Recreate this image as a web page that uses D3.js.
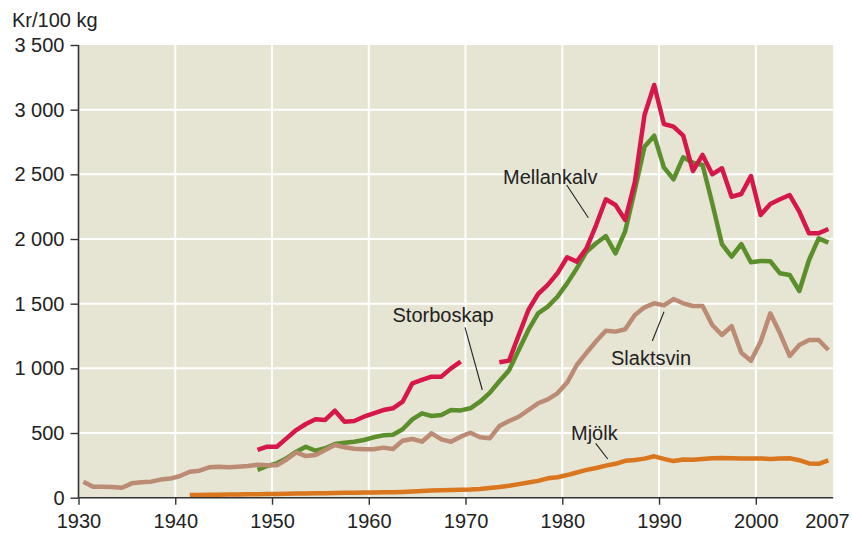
<!DOCTYPE html>
<html><head><meta charset="utf-8">
<script src="https://cdn.jsdelivr.net/npm/d3@7"></script>
<style>body{margin:0;background:#fff;}svg{display:block;font-family:"Liberation Sans",Arial,sans-serif;}</style>
</head><body><svg id="c" width="853" height="533"></svg>
<script>
const years = d3.range(1930, 2008);
// Values per year 1930..2007 (null = no data)
const slaktsvin = [124,85,85,82,77,111,120,124,140,148,168,201,209,235,240,235,240,245,255,250,
 250,295,350,322,330,369,407,390,379,374,374,387,377,441,454,433,498,451,433,472,
 502,467,459,554,593,626,678,730,760,807,890,1026,1120,1210,1291,1284,1302,1413,1472,1503,
 1487,1536,1503,1482,1482,1335,1258,1327,1121,1059,1206,1426,1271,1096,1181,1219,1219,1142];
const storboskap = [null,null,null,null,null,null,null,null,null,null,null,null,null,null,null,null,null,null,215,245,
 266,304,356,394,363,382,415,425,433,446,467,482,487,529,606,652,632,640,678,675,
 691,742,810,900,985,1142,1297,1425,1477,1554,1657,1773,1902,1967,2023,1889,2060,2380,2714,2799,
 2554,2462,2632,2590,2572,2276,1961,1863,1961,1820,1830,1828,1735,1722,1598,1838,2005,1972];
const mellankalv = [null,null,null,null,null,null,null,null,null,null,null,null,null,null,null,null,null,null,369,394,
 394,459,523,570,606,601,673,588,593,626,652,678,691,742,884,910,936,936,1000,1052,
 null,null,null,1047,1060,1258,1451,1575,1645,1735,1859,1825,1928,2108,2307,2263,2147,2440,2959,3191,
 2889,2869,2799,2526,2650,2500,2547,2327,2348,2487,2186,2271,2307,2340,2211,2044,2044,2078];
const mjolk = [null,null,null,null,null,null,null,null,null,null,null,20,21,22,23,24,25,26,27,28,
 29,31,32,33,34,35,37,38,38,40,41,42,43,45,48,52,55,57,59,61,
 63,68,75,82,92,105,118,130,150,158,175,195,215,230,248,262,285,292,302,320,
 300,283,295,293,300,305,306,305,304,304,304,300,303,305,290,265,262,288];
const seriesNames = ["Storboskap","Slaktsvin","Mellankalv","Mjölk"];
const seriesColors = ["#5b8f2b","#bb8b74","#d6174c","#d9761e"];
const yTicks = [0,500,1000,1500,2000,2500,3000,3500];
const yTickLabels = ["0","500","1 000","1 500","2 000","2 500","3 000","3 500"];
const xTicks = [1930,1940,1950,1960,1970,1980,1990,2000];
const xEndLabel = "2007";
const unitLabel = "Kr/100 kg";

const svg = d3.select("#c");
const x = d3.scaleLinear().domain([1930, 2008]).range([78.5, 833.2]);
const y = d3.scaleLinear().domain([0, 3500]).range([497.7, 45]);
const FS = "20px";

svg.append("rect").attr("x", x(1930)).attr("y", y(3500))
  .attr("width", x(2008) - x(1930)).attr("height", y(0) - y(3500)).attr("fill", "#e6e4d3");

// grid
svg.append("g").selectAll("line").data(xTicks.filter(d => d > 1930)).join("line")
  .attr("x1", d => x(d)).attr("x2", d => x(d)).attr("y1", y(3500)).attr("y2", y(0))
  .attr("stroke", "#fff").attr("stroke-width", 2);
svg.append("g").selectAll("line").data(yTicks.filter(d => d > 0 && d < 3500)).join("line")
  .attr("x1", x(1930)).attr("x2", x(2008)).attr("y1", d => y(d)).attr("y2", d => y(d))
  .attr("stroke", "#fff").attr("stroke-width", 2);

// lines
const allSeries = [storboskap, slaktsvin, mellankalv, mjolk];
const line = d3.line().defined(d => d[1] != null).x(d => x(d[0] + 0.5)).y(d => y(d[1]));
allSeries.forEach((s, i) => {
  svg.append("path").datum(years.map((yr, j) => [yr, s[j]]))
    .attr("d", line).attr("fill", "none").attr("stroke", seriesColors[i])
    .attr("stroke-width", 4.5).attr("stroke-linejoin", "round");
});

// axes
const yAxis = svg.append("g").attr("transform", `translate(${x(1930)},0)`)
  .call(d3.axisLeft(y).tickValues(yTicks).tickFormat((d, i) => yTickLabels[i]).tickSize(8).tickPadding(6));
const xAxis = svg.append("g").attr("transform", `translate(0,${y(0)})`)
  .call(d3.axisBottom(x).tickValues(xTicks).tickFormat(d3.format("d")).tickSize(7).tickPadding(9.5));
[yAxis, xAxis].forEach(a => {
  a.select(".domain").attr("stroke", "#333").attr("stroke-width", 1.6);
  a.selectAll(".tick line").attr("stroke", "#333").attr("stroke-width", 1.4);
  a.selectAll("text").attr("font-size", FS).attr("fill", "#222").attr("font-family", "Liberation Sans, Arial, sans-serif");
});
yAxis.select(".domain").attr("d", `M0,${y(0)}V${y(3500)}`);
xAxis.select(".domain").attr("d", `M${x(1930)},0H${x(2008)}`);
xAxis.append("text").attr("x", x(2007.4)).attr("y", 16.5).attr("dy", "0.71em").attr("text-anchor", "middle")
  .attr("font-size", FS).attr("fill", "#222").text(xEndLabel);

svg.append("text").attr("x", 12).attr("y", 27).attr("font-size", FS).attr("fill", "#222").text(unitLabel);

// annotations
const ann = [
  {t: "Mellankalv", tx: 503, ty: 184, l: [566.7, 185, 588.3, 217.7]},
  {t: "Storboskap", tx: 392.5, ty: 321.7, l: [465, 327.3, 482.3, 390]},
  {t: "Slaktsvin", tx: 611, ty: 365, l: [652.3, 341, 664, 311.7]},
  {t: "Mjölk", tx: 571, ty: 440, l: [595.7, 443.3, 607.7, 459]}
];
ann.forEach(a => {
  svg.append("text").attr("x", a.tx).attr("y", a.ty).attr("font-size", FS).attr("fill", "#222").text(a.t);
  svg.append("line").attr("x1", a.l[0]).attr("y1", a.l[1]).attr("x2", a.l[2]).attr("y2", a.l[3])
    .attr("stroke", "#222").attr("stroke-width", 1.1);
});
</script></body></html>
